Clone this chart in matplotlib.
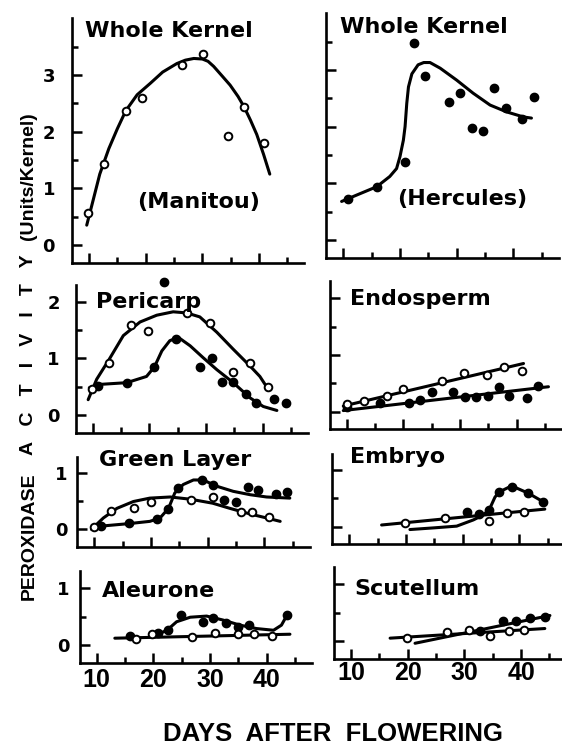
import matplotlib.pyplot as plt
import matplotlib

matplotlib.rcParams['font.family'] = 'DejaVu Sans'
matplotlib.rcParams['font.weight'] = 'bold'

# ---- data (days after flowering, units/kernel) ----
manitou_days = [9.9, 12.6, 16.5, 19.4, 26.4, 30.2, 34.6, 37.4, 40.8]
manitou_vals = [0.57, 1.43, 2.37, 2.59, 3.17, 3.36, 1.93, 2.43, 1.80]
manitou_curve_days = [9.6, 10.5, 11.9, 13.5, 15.0, 16.5, 18.5, 20.8, 23.0, 25.5, 27.0,
                      28.5, 30.0, 31.0, 32.0, 33.5, 34.9, 36.3, 37.4, 38.5, 39.6, 40.8, 41.9]
manitou_curve_vals = [0.35, 0.70, 1.25, 1.70, 2.05, 2.37, 2.65, 2.85, 3.05, 3.20, 3.26,
                      3.29, 3.28, 3.24, 3.15, 2.98, 2.82, 2.62, 2.43, 2.20, 1.95, 1.60, 1.25]

hercules_days = [10.9, 15.9, 20.9, 22.4, 24.5, 28.65, 30.6, 32.7, 34.6, 36.6, 38.7, 41.6, 43.6]
hercules_vals = [0.72, 0.94, 1.38, 3.47, 2.90, 2.44, 2.60, 1.97, 1.92, 2.68, 2.32, 2.13, 2.53]
hercules_curve_days = [9.7, 12.3, 15.9, 18.2, 19.4, 20.0, 20.6, 20.9, 21.2, 21.5, 22.1, 23.2,
                       24.2, 25.3, 27.1, 30.0, 32.9, 35.9, 38.8, 41.8, 43.2]
hercules_curve_vals = [0.68, 0.79, 0.94, 1.12, 1.26, 1.47, 1.76, 2.00, 2.41, 2.70, 2.93, 3.09,
                       3.13, 3.13, 3.03, 2.82, 2.59, 2.38, 2.26, 2.17, 2.15]

pericarp_open_days = [9.9, 12.9, 16.8, 19.7, 26.6, 30.7, 34.8, 37.8, 40.9]
pericarp_open_vals = [0.45, 0.91, 1.59, 1.49, 1.80, 1.62, 0.76, 0.91, 0.49]
pericarp_open_curve_days = [9.2, 10.7, 12.9, 15.4, 18.35, 21.3, 24.2, 26.6, 28.9, 31.9, 34.8, 37.8, 39.5, 41.0]
pericarp_open_curve_vals = [0.27, 0.63, 0.98, 1.40, 1.64, 1.76, 1.82, 1.80, 1.73, 1.46, 1.16, 0.86, 0.68, 0.45]
pericarp_filled_days = [10.9, 16.0, 20.9, 22.6, 24.7, 28.9, 31.0, 32.9, 34.8, 37.05, 38.9, 42.0, 44.1]
pericarp_filled_vals = [0.52, 0.57, 0.85, 2.34, 1.34, 0.85, 1.00, 0.58, 0.58, 0.37, 0.21, 0.28, 0.22]
pericarp_filled_curve_days = [9.4, 11.3, 16.0, 19.5, 20.9, 22.2, 23.6, 25.1, 27.2, 29.5, 31.9, 34.8, 37.8, 40.1, 42.5]
pericarp_filled_curve_vals = [0.48, 0.54, 0.57, 0.68, 0.85, 1.13, 1.31, 1.37, 1.22, 1.01, 0.80, 0.57, 0.30, 0.15, 0.08]

endosperm_open_days = [10.0, 13.05, 17.1, 20.0, 26.8, 30.7, 34.8, 37.8, 40.9]
endosperm_open_vals = [0.14, 0.18, 0.27, 0.40, 0.55, 0.69, 0.65, 0.79, 0.71]
endosperm_open_line_days = [9.4, 41.2]
endosperm_open_line_vals = [0.10, 0.85]
endosperm_filled_days = [10.0, 15.9, 21.05, 22.9, 25.0, 28.8, 30.9, 32.9, 35.0, 36.9, 38.7, 41.9, 43.8]
endosperm_filled_vals = [0.09, 0.16, 0.16, 0.20, 0.34, 0.34, 0.26, 0.26, 0.27, 0.43, 0.27, 0.24, 0.46]
endosperm_filled_line_days = [9.4, 45.6]
endosperm_filled_line_vals = [0.02, 0.44]

green_open_days = [10.0, 12.9, 17.0, 20.0, 27.0, 30.9, 35.9, 37.9, 40.9]
green_open_vals = [0.04, 0.33, 0.37, 0.48, 0.52, 0.57, 0.30, 0.30, 0.21]
green_open_curve_days = [9.5, 11.6, 14.0, 16.9, 19.8, 23.4, 27.0, 30.9, 33.9, 37.5, 40.4, 42.8]
green_open_curve_vals = [0.00, 0.20, 0.37, 0.49, 0.55, 0.57, 0.53, 0.46, 0.37, 0.27, 0.20, 0.14]
green_filled_days = [11.2, 16.1, 21.1, 22.95, 24.8, 28.95, 30.9, 32.9, 35.0, 37.1, 38.9, 42.0, 43.95]
green_filled_vals = [0.06, 0.11, 0.18, 0.36, 0.72, 0.87, 0.79, 0.51, 0.48, 0.75, 0.70, 0.63, 0.65]
green_filled_curve_days = [10.1, 11.6, 16.1, 19.8, 21.6, 23.1, 24.2, 25.7, 27.5, 29.2, 31.6, 34.5, 37.5, 40.4, 44.5]
green_filled_curve_vals = [0.00, 0.06, 0.10, 0.14, 0.20, 0.37, 0.64, 0.79, 0.87, 0.87, 0.76, 0.67, 0.61, 0.57, 0.55]

embryo_open_days = [19.8, 26.9, 34.65, 37.9, 40.8]
embryo_open_vals = [0.06, 0.16, 0.10, 0.24, 0.26]
embryo_open_line_days = [15.7, 44.5]
embryo_open_line_vals = [0.03, 0.31]
embryo_filled_days = [30.7, 32.9, 34.65, 36.4, 38.65, 41.6, 44.2]
embryo_filled_vals = [0.26, 0.23, 0.29, 0.61, 0.70, 0.59, 0.44]
embryo_filled_curve_days = [20.7, 25.0, 28.95, 31.9, 33.5, 34.65, 35.7, 36.4, 38.65, 41.6, 44.2]
embryo_filled_curve_vals = [-0.05, -0.02, 0.01, 0.12, 0.20, 0.29, 0.52, 0.61, 0.72, 0.59, 0.44]

aleurone_open_days = [16.9, 19.8, 26.9, 30.9, 34.9, 37.8, 40.9]
aleurone_open_vals = [0.11, 0.19, 0.14, 0.22, 0.19, 0.19, 0.16]
aleurone_open_line_days = [13.2, 44.1]
aleurone_open_line_vals = [0.12, 0.19]
aleurone_filled_days = [15.9, 20.9, 22.6, 24.9, 28.8, 30.6, 32.8, 35.0, 36.9, 43.6]
aleurone_filled_vals = [0.15, 0.22, 0.26, 0.53, 0.40, 0.47, 0.38, 0.31, 0.35, 0.53]
aleurone_filled_curve_days = [20.6, 22.4, 24.1, 26.5, 29.4, 32.3, 35.3, 38.2, 41.2, 42.6, 43.6]
aleurone_filled_curve_vals = [0.18, 0.26, 0.41, 0.49, 0.51, 0.44, 0.35, 0.29, 0.26, 0.35, 0.53]

scutellum_open_days = [19.8, 26.9, 30.9, 34.5, 37.8, 40.6]
scutellum_open_vals = [0.05, 0.15, 0.20, 0.09, 0.18, 0.19]
scutellum_open_line_days = [16.9, 44.2]
scutellum_open_line_vals = [0.05, 0.22]
scutellum_filled_days = [32.8, 36.9, 39.2, 41.6, 44.2]
scutellum_filled_vals = [0.18, 0.36, 0.35, 0.41, 0.43]
scutellum_filled_line_days = [21.3, 45.1]
scutellum_filled_line_vals = [-0.04, 0.45]

x_ticks = [10, 20, 30, 40]

# ---- layout (pixels of the 562x752 page) ----
W, H = 562, 752
PX_DAY = 5.667   # pixels per day
PX_VAL = 56.7    # pixels per unit
X0, X1 = 7, 48
YBOT = -0.31

# x of day 10, y of zero, top of y range, tick label pad (px), title and its position
panels = [
    dict(x10=89, y0=245, ytop=4.0, nmaj=3, pad=17, col=0, row=0, title='Whole Kernel', tpos=(85, 37),
         sub='(Manitou)', spos=(137, 208),
         open=(manitou_days, manitou_vals), open_line=(manitou_curve_days, manitou_curve_vals)),
    dict(x10=343.3, y0=240, ytop=4.0, nmaj=3, pad=17, col=1, row=0, title='Whole Kernel', tpos=(340, 33),
         sub='(Hercules)', spos=(397, 205),
         filled=(hercules_days, hercules_vals), filled_line=(hercules_curve_days, hercules_curve_vals)),
    dict(x10=92.7, y0=415, ytop=2.3, nmaj=2, pad=16, col=0, row=1, title='Pericarp', tpos=(96, 308),
         open=(pericarp_open_days, pericarp_open_vals),
         open_line=(pericarp_open_curve_days, pericarp_open_curve_vals),
         filled=(pericarp_filled_days, pericarp_filled_vals),
         filled_line=(pericarp_filled_curve_days, pericarp_filled_curve_vals)),
    dict(x10=346.7, y0=411.7, ytop=2.31, nmaj=2, pad=16, col=1, row=1, title='Endosperm', tpos=(350, 305),
         open=(endosperm_open_days, endosperm_open_vals),
         open_line=(endosperm_open_line_days, endosperm_open_line_vals),
         filled=(endosperm_filled_days, endosperm_filled_vals),
         filled_line=(endosperm_filled_line_days, endosperm_filled_line_vals)),
    dict(x10=94.3, y0=529.3, ytop=1.27, nmaj=1, pad=10, col=0, row=2, title='Green Layer', tpos=(99, 466),
         open=(green_open_days, green_open_vals),
         open_line=(green_open_curve_days, green_open_curve_vals),
         filled=(green_filled_days, green_filled_vals),
         filled_line=(green_filled_curve_days, green_filled_curve_vals)),
    dict(x10=349.3, y0=526.7, ytop=1.28, nmaj=1, pad=10, col=1, row=2, title='Embryo', tpos=(350, 463),
         open=(embryo_open_days, embryo_open_vals),
         open_line=(embryo_open_line_days, embryo_open_line_vals),
         filled=(embryo_filled_days, embryo_filled_vals),
         filled_line=(embryo_filled_curve_days, embryo_filled_curve_vals)),
    dict(x10=96.7, y0=645, ytop=1.3, nmaj=1, pad=10, col=0, row=3, title='Aleurone', tpos=(102, 597),
         open=(aleurone_open_days, aleurone_open_vals),
         open_line=(aleurone_open_line_days, aleurone_open_line_vals),
         filled=(aleurone_filled_days, aleurone_filled_vals),
         filled_line=(aleurone_filled_curve_days, aleurone_filled_curve_vals)),
    dict(x10=351, y0=641, ytop=1.31, nmaj=1, pad=10, col=1, row=3, title='Scutellum', tpos=(354, 595),
         open=(scutellum_open_days, scutellum_open_vals),
         open_line=(scutellum_open_line_days, scutellum_open_line_vals),
         filled=(scutellum_filled_days, scutellum_filled_vals),
         filled_line=(scutellum_filled_line_days, scutellum_filled_line_vals)),
]

fig = plt.figure(figsize=(W / 100, H / 100), dpi=100)
LW = 2.2

for p in panels:
    left = p['x10'] - (10 - X0) * PX_DAY
    bottom = p['y0'] - YBOT * PX_VAL
    width = (X1 - X0) * PX_DAY
    height = (p['ytop'] - YBOT) * PX_VAL
    ax = fig.add_axes([left / W, 1 - bottom / H, width / W, height / H])
    ax.set_xlim(X0, X1)
    ax.set_ylim(YBOT, p['ytop'])
    for s in ['top', 'right']:
        ax.spines[s].set_visible(False)
    for s in ['left', 'bottom']:
        ax.spines[s].set_linewidth(1.9)
    ax.patch.set_visible(False)

    ax.set_xticks(x_ticks)
    ax.set_xticks([15, 25, 35, 45], minor=True)
    nmaj = p['nmaj']
    ax.set_yticks(list(range(0, nmaj + 1)))
    ax.set_yticks([k + 0.5 for k in range(0, nmaj + 1) if k + 0.5 < p['ytop']], minor=True)
    ax.tick_params(which='major', direction='in', length=7, width=1.8)
    ax.tick_params(which='minor', direction='in', length=4.5, width=1.8)
    ax.tick_params(axis='y', which='major', pad=p['pad'] * 0.72, labelsize=13)
    if p['col'] == 1:
        ax.tick_params(axis='y', labelleft=False)
    else:
        ax.set_yticklabels([str(k) for k in range(0, nmaj + 1)], fontweight='bold')
    if p['row'] == 3:
        ax.set_xticklabels([str(t) for t in x_ticks], fontsize=18, fontweight='bold',
                           family='Liberation Sans')
        ax.tick_params(axis='x', pad=4 if p['col'] == 0 else 2)
    else:
        ax.tick_params(axis='x', labelbottom=False)

    if 'open_line' in p:
        ax.plot(*p['open_line'], color='black', lw=LW, solid_capstyle='round', zorder=2, clip_on=False)
    if 'filled_line' in p:
        ax.plot(*p['filled_line'], color='black', lw=LW, solid_capstyle='round', zorder=2, clip_on=False)
    if 'filled' in p:
        ax.plot(*p['filled'], 'o', ms=6, mfc='black', mec='black', zorder=3, clip_on=False)
    if 'open' in p:
        ax.plot(*p['open'], 'o', ms=5.5, mfc='white', mec='black', mew=1.4, zorder=4, clip_on=False)

    fig.text(p['tpos'][0] / W, 1 - p['tpos'][1] / H, p['title'], fontsize=16,
             fontweight='bold', ha='left', va='baseline')
    if 'sub' in p:
        fig.text(p['spos'][0] / W, 1 - p['spos'][1] / H, p['sub'], fontsize=16,
                 fontweight='bold', ha='left', va='baseline')

# axis titles
ylab_font = 'Liberation Sans'
fig.text(29 / W, 1 - 536 / H, 'PEROXIDASE', rotation=90, fontsize=14, fontweight='bold',
         family=ylab_font, ha='center', va='center')
fig.text(29 / W, 1 - 355 / H, 'A   C   T   I   V   I   T   Y', rotation=90, fontsize=14,
         fontweight='bold', family=ylab_font, ha='center', va='center')
fig.text(29 / W, 1 - 176 / H, '(Units/Kernel)', rotation=90, fontsize=14, fontweight='bold',
         family=ylab_font, ha='center', va='center')
fig.text(333 / W, 1 - 734 / H, 'DAYS  AFTER  FLOWERING', fontsize=18.5, fontweight='bold',
         family='Liberation Sans', ha='center', va='center')

fig.savefig('out.png', dpi=100)
